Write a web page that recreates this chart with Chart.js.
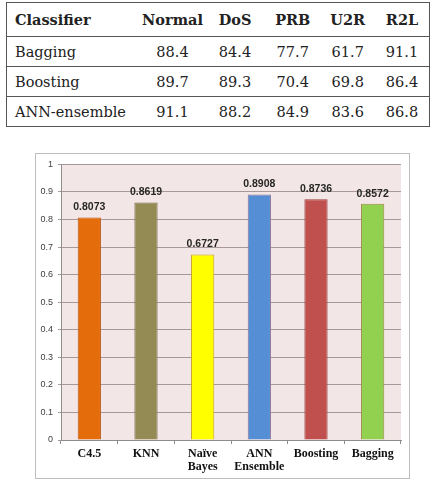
<!DOCTYPE html>
<html>
<head>
<meta charset="utf-8">
<script src="https://cdn.jsdelivr.net/npm/chart.js@4.4.1/dist/chart.umd.min.js"></script>
<style>
  html, body { margin: 0; padding: 0; background: #fff; width: 431px; height: 491px; overflow: hidden; }
  #results {
    position: absolute; left: 6px; top: 2px; width: 423px;
    border-collapse: collapse; table-layout: fixed;
    font-family: "DejaVu Serif", serif; font-size: 14.5px; color: #222;
    border: 1.5px solid #555;
  }
  #results th, #results td { padding: 0; vertical-align: middle; text-align: center; }
  #results th { height: 33px; font-weight: bold; border-bottom: 1.5px solid #555; }
  #results td { height: 29px; border-bottom: 1px solid #555; }
  #results .name { text-align: left; padding-left: 8px; }
  #frame {
    position: absolute; left: 35px; top: 153px; width: 375px; height: 326px;
    box-sizing: border-box; border: 1px solid #bdbdbd; background: #fff;
  }
</style>
</head>
<body>
<table id="results">
  <colgroup>
    <col style="width:133.5px"><col style="width:65px"><col style="width:60px">
    <col style="width:55.5px"><col style="width:54.5px"><col style="width:54.5px">
  </colgroup>
  <thead><tr id="headRow"></tr></thead>
  <tbody id="bodyRows"></tbody>
</table>
<div id="frame"><canvas id="accChart"></canvas></div>
<script>
// table data
const tableHeaders = ['Classifier', 'Normal', 'DoS', 'PRB', 'U2R', 'R2L'];
const tableClassifiers = ['Bagging', 'Boosting', 'ANN-ensemble'];
const baggingRates = [88.4, 84.4, 77.7, 61.7, 91.1];
const boostingRates = [89.7, 89.3, 70.4, 69.8, 86.4];
const annEnsembleRates = [91.1, 88.2, 84.9, 83.6, 86.8];

// chart data
const classifiers = ['C4.5', 'KNN', ['Naïve', 'Bayes'], ['ANN', 'Ensemble'], 'Boosting', 'Bagging'];
const accuracy = [0.8073, 0.8619, 0.6727, 0.8908, 0.8736, 0.8572];
const barColors = ['#e46c0a', '#948a54', '#ffff00', '#558ed5', '#c0504d', '#92d050'];
const barEdges = ['#b8581a', '#7d6a4c', '#c9a020', '#8a7098', '#9c3c3a', '#9a8a40'];

// build the table
const headRow = document.getElementById('headRow');
tableHeaders.forEach(function (h, i) {
    const th = document.createElement('th');
    th.textContent = h;
    if (i === 0) th.className = 'name';
    headRow.appendChild(th);
});
const bodyRows = document.getElementById('bodyRows');
[baggingRates, boostingRates, annEnsembleRates].forEach(function (vals, r) {
    const tr = document.createElement('tr');
    const td = document.createElement('td');
    td.className = 'name';
    td.textContent = tableClassifiers[r];
    tr.appendChild(td);
    vals.forEach(function (v) {
        const c = document.createElement('td');
        c.textContent = v.toFixed(1);
        tr.appendChild(c);
    });
    bodyRows.appendChild(tr);
});

// pink plot background
const plotBackground = {
    id: 'plotBackground',
    beforeDraw(chart) {
        const a = chart.chartArea;
        const ctx = chart.ctx;
        ctx.save();
        ctx.fillStyle = '#f3e6e6';
        ctx.fillRect(a.left, a.top, a.right - a.left, a.bottom - a.top);
        ctx.restore();
    }
};

// value labels above bars
const valueLabels = {
    id: 'valueLabels',
    afterDatasetsDraw(chart) {
        const ctx = chart.ctx;
        const meta = chart.getDatasetMeta(0);
        ctx.save();
        ctx.font = 'bold 10.5px "Liberation Sans", Arial, sans-serif';
        ctx.fillStyle = '#262626';
        ctx.textAlign = 'center';
        ctx.textBaseline = 'middle';
        meta.data.forEach(function (bar, i) {
            ctx.fillText(accuracy[i].toFixed(4), bar.x, bar.y - 10);
        });
        ctx.restore();
    }
};

const ctx = document.getElementById('accChart').getContext('2d');
new Chart(ctx, {
    type: 'bar',
    data: {
        labels: classifiers,
        datasets: [{
            data: accuracy,
            backgroundColor: barColors,
            borderColor: barEdges,
            borderWidth: 1,
            categoryPercentage: 1,
            barPercentage: 0.41
        }]
    },
    options: {
        responsive: true,
        maintainAspectRatio: false,
        animation: false,
        layout: { padding: { top: 9, right: 8, left: 0, bottom: 0 } },
        plugins: {
            legend: { display: false },
            tooltip: { enabled: false }
        },
        scales: {
            x: {
                afterFit(scale) { scale.height = 38; },
                grid: { drawOnChartArea: false, tickLength: 4, color: '#8c8c8c' },
                border: { color: '#8c8c8c' },
                ticks: {
                    padding: 3,
                    maxRotation: 0,
                    color: '#111',
                    font: { family: '"Liberation Serif", "Times New Roman", serif', size: 12, weight: 'bold', lineHeight: 1.1 }
                }
            },
            y: {
                min: 0,
                max: 1,
                afterFit(scale) { scale.width = 25; },
                grid: { color: '#a89898', tickLength: 3 },
                border: { color: '#8c8c8c' },
                ticks: {
                    stepSize: 0.1,
                    padding: 5,
                    color: '#404040',
                    font: { family: '"Liberation Sans", Arial, sans-serif', size: 9 },
                    callback: function (v) { return String(Math.round(v * 10) / 10); }
                }
            }
        }
    },
    plugins: [plotBackground, valueLabels]
});
</script>
</body>
</html>
